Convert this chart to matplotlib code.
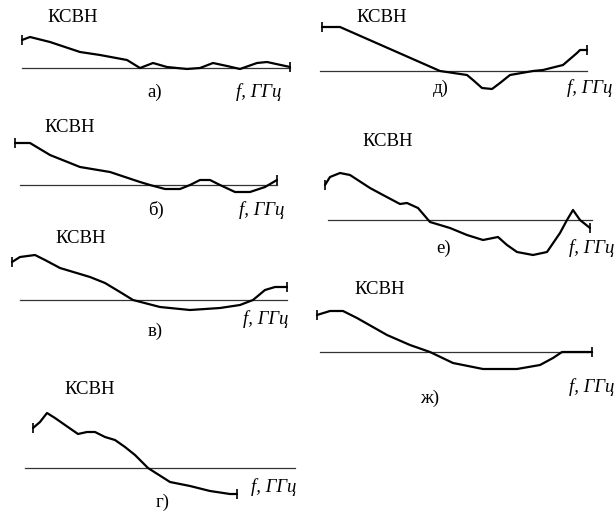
import matplotlib
matplotlib.use("Agg")
import matplotlib.pyplot as plt

# panel data: x = frequency (arb. units), y = KSVN deviation from the base line
a_x = [0, 8, 28, 58, 78, 105, 118, 131, 145, 165, 178, 191, 205, 218, 235, 245, 268]
a_y = [28, 31, 26, 16, 13, 8, 0, 5, 1, -1, 0, 5, 2, -1, 5, 6, 1]

b_x = [-5, 10, 30, 60, 90, 120, 130, 145, 160, 170, 180, 190, 200, 215, 230, 245, 257]
b_y = [42, 42, 30, 18, 13, 3, 0, -4, -4, 0, 5, 5, 0, -7, -7, -2, 5]

v_x = [-8, 0, 15, 25, 40, 70, 85, 100, 113, 140, 170, 200, 220, 233, 245, 255, 267]
v_y = [38, 43, 45, 40, 32, 23, 17, 8, 0, -7, -10, -8, -5, 0, 10, 13, 13]

g_x = [8, 15, 22, 30, 40, 53, 62, 70, 80, 90, 100, 110, 123, 145, 165, 185, 205, 212]
g_y = [40, 46, 55, 50, 43, 34, 36, 36, 31, 28, 21, 13, 0, -14, -18, -23, -26, -26]

d_x = [2, 20, 120, 147, 153, 162, 172, 180, 190, 213, 223, 243, 257, 260, 267]
d_y = [44, 44, 0, -4, -9, -17, -18, -12, -4, 0, 1, 6, 18, 21, 21]

e_x = [-3, 2, 12, 22, 42, 55, 72, 79, 90, 102, 122, 139, 155, 170, 179, 189, 205,
       219, 232, 239, 245, 252, 262]
e_y = [35, 43, 47, 45, 32, 25, 16, 17, 12, -2, -8, -15, -20, -17, -25, -32, -35,
       -32, -13, 0, 10, 0, -8]

zh_x = [-3, 10, 23, 37, 67, 90, 110, 133, 163, 197, 220, 233, 242, 272]
zh_y = [37, 41, 41, 34, 17, 7, 0, -11, -17, -17, -13, -6, 0, 0]

labels = ["а)", "б)", "в)", "г)", "д)", "е)", "ж)"]
series = [(a_x, a_y), (b_x, b_y), (v_x, v_y), (g_x, g_y),
          (d_x, d_y), (e_x, e_y), (zh_x, zh_y)]

# layout: base length, origin px, title pos, label pos, f pos
layout = [
    (268, (22, 68), (51, 51), (133, -24), (231, -24)),
    (257, (20, 185), (50, 58), (136, -25), (236, -25)),
    (267, (20, 300), (61, 62), (135, -31), (240, -19)),
    (270, (25, 468), (65, 78), (138, -34), (243, -19)),
    (267, (320, 71), (62, 54), (121, -17), (264, -17)),
    (264, (328, 220), (60, 78), (116, -28), (262, -28)),
    (272, (320, 352), (60, 63), (110, -46), (267, -35)),
]

W, H = 616, 513
fig = plt.figure(figsize=(W / 100, H / 100), dpi=100)
serif = "Liberation Serif"
fs = 13.5

for (x, y), lab, (blen, (x0, yb), tpos, lpos, fpos) in zip(series, labels, layout):
    ax = fig.add_axes([(x0 - 30) / W, (H - yb - 50) / H, 330 / W, 140 / H])
    ax.set_xlim(-30, 300)
    ax.set_ylim(-50, 90)
    ax.axis("off")
    ax.plot([0, blen], [0, 0], color="#333333", lw=0.9)
    ax.plot(x, y, color="black", lw=1.6, solid_capstyle="round")
    ax.plot([x[0], x[-1]], [y[0], y[-1]], ls="none", marker="|", ms=7,
            mew=1.2, color="black")
    ax.text(tpos[0], tpos[1], "КСВН", family=serif, fontsize=fs,
            ha="center", va="center")
    ax.text(lpos[0], lpos[1], lab, family=serif, fontsize=fs,
            ha="center", va="center")
    fx = min(fpos[0] + 28, (W - 2) - x0)
    ax.text(fx, fpos[1], "f, ГГц", family=serif, style="italic",
            fontsize=fs, ha="right", va="center")

fig.savefig("out.png", dpi=100, facecolor="white")
